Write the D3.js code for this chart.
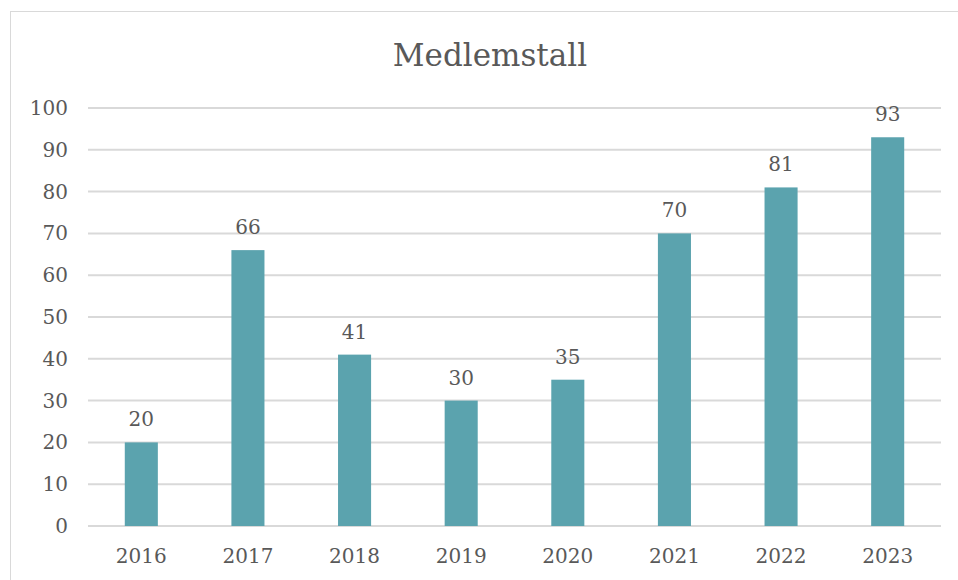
<!DOCTYPE html>
<html>
<head>
<meta charset="utf-8">
<script src="https://cdn.jsdelivr.net/npm/d3@7"></script>
<style>
  body { margin: 0; background: #fff; }
  text { font-family: "DejaVu Serif", serif; fill: #595959; }
</style>
</head>
<body>
<div id="chart"></div>
<script>
const years = ['2016', '2017', '2018', '2019', '2020', '2021', '2022', '2023']
const members = [20, 66, 41, 30, 35, 70, 81, 93]
const yTicks = [0, 10, 20, 30, 40, 50, 60, 70, 80, 90, 100]

const width = 958, height = 580
const plot = {left: 88, right: 941, top: 108, bottom: 526}

const svg = d3.select('#chart').append('svg')
  .attr('width', width)
  .attr('height', height)

// chart frame
svg.append('rect')
  .attr('x', 10.5).attr('y', 11.5)
  .attr('width', 960).attr('height', 600)
  .attr('fill', 'none')
  .attr('stroke', '#d9d9d9')

const x = d3.scaleBand()
  .domain(years)
  .range([plot.left, plot.right])
  .paddingInner(0.69)
  .paddingOuter(0.345)

const y = d3.scaleLinear()
  .domain([0, 100])
  .range([plot.bottom, plot.top])

// gridlines
svg.append('g')
  .selectAll('line')
  .data(yTicks)
  .enter()
  .append('line')
  .attr('x1', plot.left)
  .attr('x2', plot.right)
  .attr('y1', d => y(d))
  .attr('y2', d => y(d))
  .attr('stroke', '#d9d9d9')
  .attr('stroke-width', 2)

// y tick labels
svg.append('g')
  .selectAll('text')
  .data(yTicks)
  .enter()
  .append('text')
  .attr('x', 68)
  .attr('y', d => y(d))
  .attr('dy', '0.35em')
  .attr('text-anchor', 'end')
  .style('font-size', '20px')
  .text(d => d)

// bars
svg.append('g')
  .selectAll('rect')
  .data(members)
  .enter()
  .append('rect')
  .attr('x', (d, i) => x(years[i]))
  .attr('y', d => y(d))
  .attr('width', x.bandwidth())
  .attr('height', d => y(0) - y(d))
  .attr('fill', '#5ba3ae')

// value labels
svg.append('g')
  .selectAll('text')
  .data(members)
  .enter()
  .append('text')
  .attr('x', (d, i) => x(years[i]) + x.bandwidth() / 2)
  .attr('y', d => y(d) - 16)
  .attr('text-anchor', 'middle')
  .style('font-size', '20px')
  .text(d => d)

// x labels
svg.append('g')
  .selectAll('text')
  .data(years)
  .enter()
  .append('text')
  .attr('x', d => x(d) + x.bandwidth() / 2)
  .attr('y', 563)
  .attr('text-anchor', 'middle')
  .style('font-size', '20px')
  .text(d => d)

// title
svg.append('text')
  .attr('x', 490)
  .attr('y', 66)
  .attr('text-anchor', 'middle')
  .style('font-size', '31px')
  .text('Medlemstall')
</script>
</body>
</html>
